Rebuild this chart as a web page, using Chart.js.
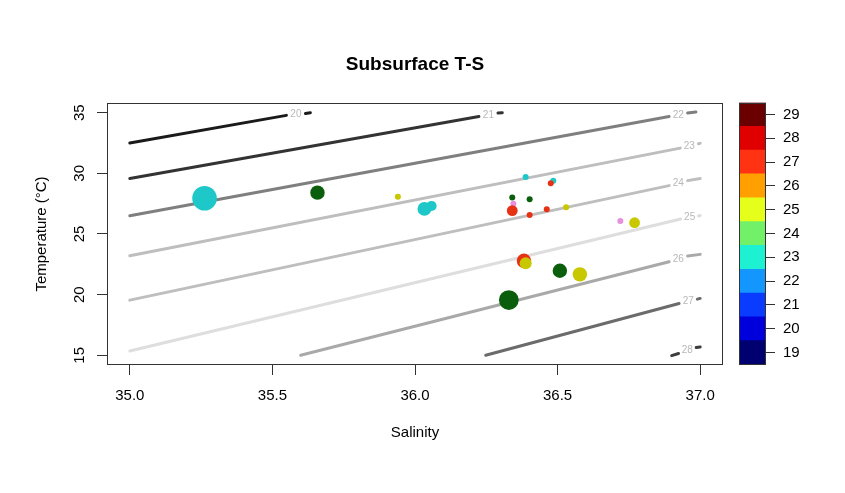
<!DOCTYPE html>
<html>
<head>
<meta charset="utf-8">
<script src="https://cdn.jsdelivr.net/npm/chart.js@4"></script>
<style>
  html, body { margin: 0; padding: 0; background: #fff; }
  #wrap { position: relative; width: 845px; height: 493px; }
  #main { position: absolute; left: 0; top: 0; width: 845px; height: 493px; }
  #key { position: absolute; left: 730px; top: 0; width: 115px; height: 493px; }
</style>
</head>
<body>
<div id="wrap">
  <div id="main"><canvas id="chartTS"></canvas></div>
  <div id="key"><canvas id="chartKey"></canvas></div>
</div>
<script>
const FONT = '"Liberation Sans", Arial, Helvetica, sans-serif';
Chart.defaults.font.family = FONT;
Chart.defaults.color = '#000';

// axes
const xTicks = [35.0, 35.5, 36.0, 36.5, 37.0];
const yTicks = [15, 20, 25, 30, 35];

// density contours (sigma-t), each broken where its label sits
const sigmaLevels = [20, 21, 22, 23, 24, 25, 26, 27, 28];
const lineStartS = [35.0, 35.0, 35.0, 35.0, 35.0, 35.0, 35.599, 36.248, 36.90];
const lineStartT = [32.50, 29.57, 26.51, 23.21, 19.55, 15.36, 15.0, 15.0, 14.97];
const gapStartS = [35.549, 36.224, 36.891, 36.930, 36.891, 36.932, 36.891, 36.926, 36.924];
const gapStartT = [34.78, 34.69, 34.69, 32.08, 28.99, 26.24, 22.71, 19.27, 15.15];
const gapEndS = [35.616, 36.291, 36.956, 36.994, 36.956, 36.994, 36.956, 36.99, 36.986];
const gapEndT = [34.94, 34.97, 34.97, 32.44, 29.40, 26.48, 23.18, 19.63, 15.64];
const lineEndS = [35.633, 36.306, 36.985, 37.0, 37.0, 37.0, 37.0, 37.0, 37.0];
const lineEndT = [35.0, 35.0, 35.06, 32.47, 29.57, 26.52, 23.32, 19.69, 15.69];
const contourColors = ['#1a1a1a', '#333333', '#7f7f7f', '#bebebe', '#bebebe', '#dedede', '#a9a9a9', '#6b6b6b', '#3d3d3d'];

// stations
const pointS = [35.262, 35.658, 35.940, 36.033, 36.058, 36.388, 36.485, 36.476, 36.341, 36.402, 36.345,
  36.341, 36.402, 36.462, 36.530, 36.720, 36.770, 36.382, 36.388, 36.508, 36.578, 36.329];
const pointT = [27.95, 28.41, 28.08, 27.07, 27.31, 29.69, 29.38, 29.19, 28.00, 27.87, 27.50,
  26.93, 26.57, 27.04, 27.21, 26.07, 25.93, 22.79, 22.58, 21.97, 21.67, 19.55];
const pointSize = [4.1, 2.4, 1, 2.3, 1.7, 1, 1, 1, 1, 1, 1,
  1.8, 1, 1, 1, 1, 1.8, 2.4, 2, 2.4, 2.4, 3.3];
const pointGroup = ['cyan', 'green', 'yellow', 'cyan', 'cyan', 'cyan', 'cyan', 'red', 'green', 'green', 'violet',
  'red', 'red', 'red', 'yellow', 'violet', 'yellow', 'red', 'yellow', 'green', 'yellow', 'green'];
const groupColors = { cyan: '#1ec8c8', green: '#0b5e0b', yellow: '#c8c800', red: '#e63214', violet: '#e890e0' };

// colour key
const keyLevels = [19, 20, 21, 22, 23, 24, 25, 26, 27, 28, 29];
const keyColors = ['#000070', '#0000dc', '#0a3cff', '#1496ff', '#1ef0d2', '#72f068',
  '#e6ff1a', '#ffa000', '#ff3312', '#e00000', '#6b0000'];

const boxPlugin = {
  id: 'box',
  afterDraw(chart) {
    const { ctx, chartArea: a } = chart;
    ctx.save();
    ctx.strokeStyle = '#333';
    ctx.lineWidth = 1;
    ctx.strokeRect(Math.round(a.left) + 0.5, Math.round(a.top) + 0.5,
      Math.round(a.width) - 1, Math.round(a.height) - 1);
    ctx.restore();
  }
};

// contour level numbers, placed in the gap of each line
const contourLabels = {
  id: 'contourLabels',
  afterDatasetsDraw(chart) {
    const { ctx, scales: { x, y } } = chart;
    ctx.save();
    ctx.font = '10px ' + FONT;
    ctx.fillStyle = '#b8b8b8';
    ctx.textAlign = 'center';
    ctx.textBaseline = 'middle';
    sigmaLevels.forEach((level, i) => {
      const x0 = x.getPixelForValue(gapStartS[i]), y0 = y.getPixelForValue(gapStartT[i]);
      const x1 = x.getPixelForValue(gapEndS[i]), y1 = y.getPixelForValue(gapEndT[i]);
      ctx.fillText(String(level), (x0 + x1) / 2, (y0 + y1) / 2);
    });
    ctx.restore();
  }
};

const contourSets = sigmaLevels.map((level, i) => ({
  type: 'line',
  label: String(level),
  data: [
    { x: lineStartS[i], y: lineStartT[i] },
    { x: gapStartS[i], y: gapStartT[i] },
    { x: gapStartS[i], y: null },
    { x: gapEndS[i], y: gapEndT[i] },
    { x: lineEndS[i], y: lineEndT[i] },
  ],
  borderColor: contourColors[i],
  borderWidth: 3,
  borderCapStyle: 'round',
  pointRadius: 0,
  spanGaps: false,
  tension: 0,
  order: 2,
}));

new Chart(document.getElementById('chartTS'), {
  type: 'scatter',
  data: {
    datasets: [
      {
        label: 'stations',
        data: pointS.map((s, i) => ({ x: s, y: pointT[i] })),
        backgroundColor: pointGroup.map(g => groupColors[g]),
        borderColor: pointGroup.map(g => groupColors[g]),
        borderWidth: 0,
        pointRadius: pointSize.map(v => v * 3),
        order: 1,
      },
      ...contourSets,
    ],
  },
  options: {
    responsive: true,
    maintainAspectRatio: false,
    animation: false,
    events: [],
    layout: { padding: { left: 0, right: 122, top: 0, bottom: 0 } },
    plugins: {
      legend: { display: false },
      tooltip: { enabled: false },
      title: {
        display: true,
        text: 'Subsurface T-S',
        fullSize: false,
        color: '#000',
        font: { size: 19, weight: 'bold' },
        padding: { top: 53.6, bottom: 26.6 },
      },
    },
    scales: {
      x: {
        type: 'linear',
        min: 34.92,
        max: 37.08,
        afterBuildTicks: s => { s.ticks = xTicks.map(v => ({ value: v })); },
        afterFit: s => { s.height = 128; },
        ticks: {
          font: { size: 15 },
          color: '#000',
          padding: 12,
          maxRotation: 0,
          autoSkip: false,
          callback: v => Number(v).toFixed(1),
        },
        grid: { display: true, drawOnChartArea: false, drawTicks: true, tickLength: 10, color: '#333' },
        border: { display: false },
        title: { display: true, text: 'Salinity', color: '#000', font: { size: 15 }, padding: 51 },
      },
      y: {
        type: 'linear',
        min: 14.2,
        max: 35.8,
        afterBuildTicks: s => { s.ticks = yTicks.map(v => ({ value: v })); },
        afterFit: s => { s.width = 107; },
        ticks: {
          font: { size: 15 },
          color: '#000',
          padding: 9,
          minRotation: 90,
          maxRotation: 90,
          crossAlign: 'center',
          autoSkip: false,
        },
        grid: { display: true, drawOnChartArea: false, drawTicks: true, tickLength: 10, color: '#333' },
        border: { display: false },
        title: { display: true, text: 'Temperature (°C)', color: '#000', font: { size: 15 }, padding: 33 },
      },
    },
  },
  plugins: [contourLabels, boxPlugin],
});

new Chart(document.getElementById('chartKey'), {
  type: 'bar',
  data: {
    labels: [''],
    datasets: keyLevels.map((lv, i) => ({
      label: String(lv),
      data: [[lv - 0.5, lv + 0.5]],
      backgroundColor: keyColors[i],
      borderWidth: 0,
      barPercentage: 1,
      categoryPercentage: 1,
      grouped: false,
    })),
  },
  options: {
    responsive: true,
    maintainAspectRatio: false,
    animation: false,
    events: [],
    layout: { padding: { left: 9, right: 0, top: 102.5, bottom: 128.5 } },
    plugins: { legend: { display: false }, tooltip: { enabled: false } },
    scales: {
      x: { display: false },
      y: {
        position: 'right',
        min: 18.5,
        max: 29.5,
        afterBuildTicks: s => { s.ticks = keyLevels.map(v => ({ value: v })); },
        afterFit: s => { s.width = 79; },
        ticks: { font: { size: 15 }, color: '#000', padding: 8, autoSkip: false },
        grid: { display: true, drawOnChartArea: false, drawTicks: true, tickLength: 9, color: '#333' },
        border: { display: false },
      },
    },
  },
  plugins: [boxPlugin],
});
</script>
</body>
</html>
